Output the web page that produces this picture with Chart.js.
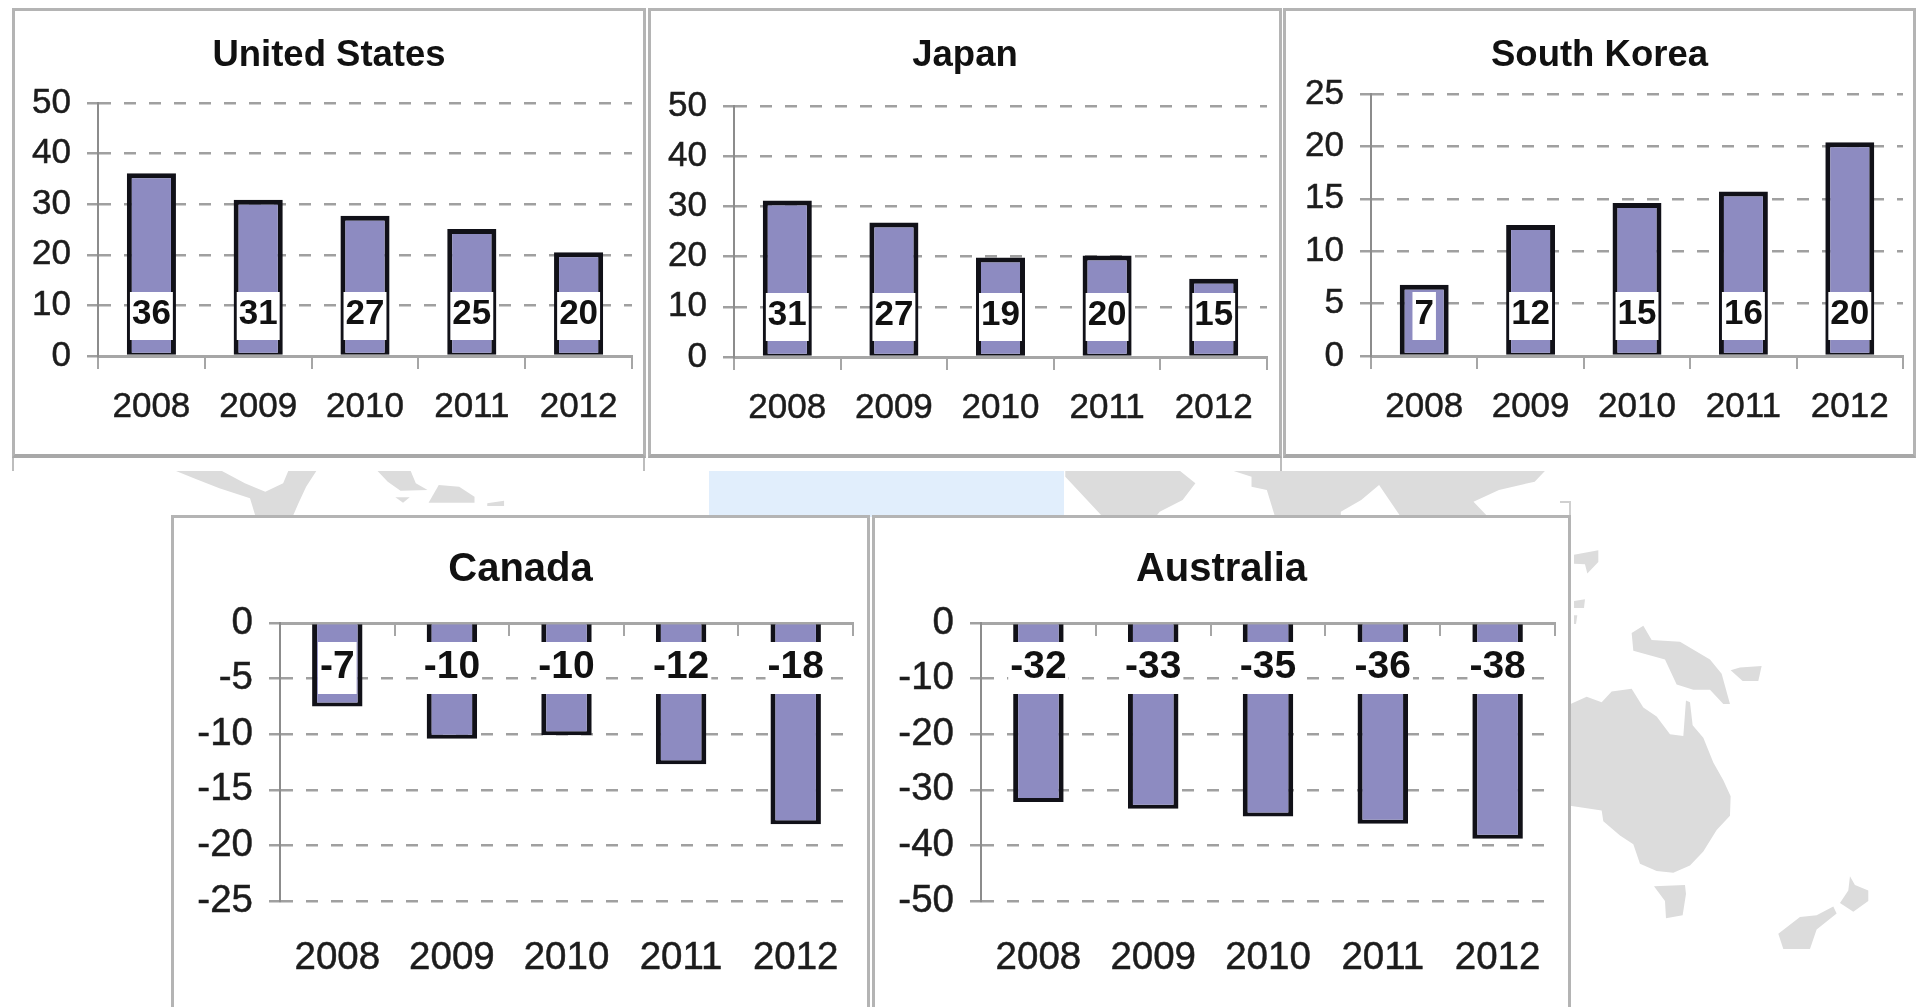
<!DOCTYPE html>
<html>
<head>
<meta charset="utf-8">
<title>Country charts</title>
<script src="https://cdn.jsdelivr.net/npm/chart.js@4"></script>
<style>
  html, body { margin: 0; padding: 0; background: #fff; width: 1916px; height: 1007px; overflow: hidden; }
  #map { position: absolute; left: 0; top: 0; filter: blur(0.6px); }
  .panel { position: absolute; background: #fff; box-sizing: border-box; border: 3px solid #b4b4b4; }
  .panel.top-row { border-bottom-width: 4px; border-bottom-color: #a8a8a8; }
  .panel.bottom-row { border-bottom: none; }
  canvas { position: absolute; filter: blur(0.5px); }
</style>
</head>
<body>

<!-- Faint world map behind the panels -->
<svg id="map" width="1916" height="1007" viewBox="0 0 1916 1007">
  <rect x="709" y="471" width="355" height="46" fill="#e1eefc"/>
  <g fill="#dcdcdc" transform="translate(0 440) scale(.5102 .3333)">
    <polygon points="345,93 435,93 480,130 520,155 555,130 565,93 620,93 600,140 585,190 575,225 500,225 490,175 430,145 380,115"/>
    <polygon points="740,93 805,93 815,130 838,150 785,152 760,125"/>
    <polygon points="860,135 900,140 930,170 930,188 840,188"/>
    <polygon points="775,172 803,172 790,188"/>
    <polygon points="955,190 988,182 988,198 955,198"/>
  </g>
  <g fill="#dcdcdc" transform="translate(800 440) scale(.5102 .3333)">
    <polygon points="520,93 745,93 775,130 750,180 705,215 700,225 590,225 520,110"/>
    <polygon points="850,93 1460,93 1440,125 1370,150 1320,185 1345,225 1175,225 1135,135 1100,180 1060,215 1060,225 930,225 915,150 885,140 885,110"/>
  </g>
  <g fill="#dcdcdc" transform="translate(1500 450) scale(.3333 .3552)">
    <polygon points="200,720 260,695 305,710 335,680 395,672 430,725 470,750 510,800 550,805 558,705 570,710 578,775 610,810 640,880 670,930 692,975 690,1030 650,1070 610,1130 570,1170 520,1190 470,1185 420,1165 400,1110 360,1085 310,1045 305,1015 200,1000"/>
    <polygon points="395,515 430,495 455,535 540,540 630,590 665,630 690,715 670,715 630,675 580,675 530,660 495,590 400,565"/>
    <polygon points="222,295 295,282 295,315 262,348 255,322 222,320"/>
    <polygon points="222,425 255,420 252,445 222,445"/>
    <polygon points="222,465 232,465 228,490 222,490"/>
    <polygon points="692,620 720,612 785,608 775,650 728,650"/>
    <polygon points="462,1228 555,1225 558,1250 548,1310 498,1318 495,1270"/>
    <polygon points="1050,1200 1065,1225 1105,1240 1105,1270 1060,1300 1020,1275 1045,1240"/>
    <polygon points="835,1362 900,1315 950,1310 1000,1285 1010,1305 950,1350 930,1405 850,1405"/>
  </g>
  <!-- stubs of the next row of frames, left showing under the top panels -->
  <g stroke="#bdbdbd" stroke-width="2" fill="none">
    <path d="M13 458V471M644 458V471M1281 458V471"/>
    <path d="M1560 502H1570V516" stroke="#d0d0d0"/>
  </g>
</svg>

<script>
const years = ['2008', '2009', '2010', '2011', '2012'];

// Bar heights, the printed labels are rounded differently in the source
const usValues = [36.1, 30.9, 27.7, 25.1, 20.5];
const usLabels = ['36', '31', '27', '25', '20'];
const usTicks = [0, 50, 10];

const japanValues = [31.2, 26.8, 19.8, 20.2, 15.6];
const japanLabels = ['31', '27', '19', '20', '15'];
const japanTicks = [0, 50, 10];

const koreaValues = [6.8, 12.5, 14.6, 15.7, 20.4];
const koreaLabels = ['7', '12', '15', '16', '20'];
const koreaTicks = [0, 25, 5];

const canadaValues = [-7.5, -10.4, -10.1, -12.7, -18.1];
const canadaLabels = ['-7', '-10', '-10', '-12', '-18'];
const canadaTicks = [-25, 0, 5];

const australiaValues = [-32.2, -33.4, -34.8, -36.1, -38.8];
const australiaLabels = ['-32', '-33', '-35', '-36', '-38'];
const australiaTicks = [-50, 0, 10];

const FONT = '"Liberation Sans", Arial, sans-serif';

// White box with the value, drawn over the bar at a fixed distance from the zero line
const valueLabels = {
  id: 'valueLabels',
  afterDraw(chart, args, opts) {
    const ctx = chart.ctx;
    const zero = chart.scales.y.getPixelForValue(0);
    const bars = chart.getDatasetMeta(0).data;
    ctx.save();
    ctx.font = 'bold ' + opts.size + 'px ' + FONT;
    ctx.textAlign = 'center';
    ctx.textBaseline = 'middle';
    opts.texts.forEach((text, i) => {
      const w = ctx.measureText(text).width + 4;
      ctx.fillStyle = '#fff';
      ctx.fillRect(bars[i].x - w / 2, zero + opts.boxOffset - opts.boxHeight / 2, w, opts.boxHeight);
      ctx.fillStyle = '#111';
      ctx.fillText(text, bars[i].x, zero + opts.textOffset);
    });
    ctx.restore();
  }
};

function makePanel(cfg) {
  const panel = document.createElement('div');
  panel.className = 'panel ' + (cfg.low ? 'bottom-row' : 'top-row');
  panel.style.left = cfg.left + 'px';
  panel.style.top = cfg.top + 'px';
  panel.style.width = (cfg.right - cfg.left) + 'px';
  panel.style.height = (cfg.bottom - cfg.top) + 'px';
  document.body.appendChild(panel);

  const w = cfg.right - cfg.left - 6;
  const h = cfg.bottom - cfg.top - 6;
  const originX = cfg.left + 3;
  const originY = cfg.top + 3;
  const canvas = document.createElement('canvas');
  canvas.style.left = '0px';
  canvas.style.top = '0px';
  canvas.style.width = w + 'px';
  canvas.style.height = h + 'px';
  canvas.width = w;
  canvas.height = h;
  panel.appendChild(canvas);

  const tickFont = cfg.low ? 38.5 : 35;
  const titleFont = cfg.low ? 40 : 36.5;
  const titleLine = titleFont * 1.2;
  const titleTop = cfg.titleY - originY - titleLine / 2;
  const titleBottom = cfg.plotTop - originY - titleTop - titleLine;
  // same padding both sides keeps the title centred on the panel
  const sidePad = originX + w - cfg.plotRight;

  new Chart(canvas, {
    type: 'bar',
    data: {
      labels: years,
      datasets: [{
        data: cfg.values,
        backgroundColor: '#8d8bc1',
        borderColor: '#111118',
        borderWidth: cfg.low ? { left: 5, right: 5, top: 0, bottom: 4 } : { left: 5, right: 5, top: 5, bottom: 2 },
        borderSkipped: false,
        categoryPercentage: 1,
        barPercentage: cfg.low ? 0.44 : 0.46
      }]
    },
    plugins: [valueLabels],
    options: {
      responsive: false,
      animation: false,
      devicePixelRatio: 1,
      layout: { padding: { left: sidePad, top: 0, bottom: 0, right: sidePad } },
      plugins: {
        legend: { display: false },
        tooltip: { enabled: false },
        title: {
          display: true,
          text: cfg.title,
          color: '#111',
          font: { family: FONT, size: titleFont, weight: 'bold', lineHeight: 1.2 },
          padding: { top: titleTop, bottom: titleBottom }
        },
        valueLabels: {
          texts: cfg.labels,
          size: cfg.low ? 39 : 35,
          boxHeight: cfg.low ? 52 : 48,
          boxOffset: cfg.low ? 45 : -40,
          textOffset: cfg.low ? 44 : -42
        }
      },
      scales: {
        // carries the year labels under the plot, axis line and marks are on x2
        x: {
          position: 'bottom',
          border: { display: false },
          // invisible tick length pushes the labels down, ticks.padding would eat the right margin
          grid: { drawOnChartArea: false, tickColor: 'rgba(0,0,0,0)', tickLength: cfg.low ? 34 : 30 },
          ticks: {
            color: '#1c1c1c',
            padding: 0,
            maxRotation: 0,
            autoSkip: false,
            textStrokeColor: '#1c1c1c',
            textStrokeWidth: 0.5,
            font: { family: FONT, size: tickFont }
          },
          afterFit(scale) { scale.height = originY + h - cfg.plotBottom; }
        },
        // axis line sits at zero, on top for the negative charts and at the bottom for the others
        x2: {
          type: 'category',
          labels: years,
          position: { y: 0 },
          offset: true,
          border: { color: '#a6a6a6', width: 3 },
          grid: { offset: true, drawOnChartArea: false, color: '#a6a6a6', lineWidth: 2, tickLength: 11 },
          ticks: { display: false }
        },
        y: {
          min: cfg.ticks[0],
          max: cfg.ticks[1],
          border: { color: '#8c8c8c', width: 2, dash: [12, 13] },
          grid: { color: '#a0a0a0', lineWidth: 2.5, tickLength: 11, tickColor: '#a0a0a0' },
          ticks: {
            stepSize: cfg.ticks[2],
            color: '#1c1c1c',
            padding: 16,
            textStrokeColor: '#1c1c1c',
            textStrokeWidth: 0.5,
            font: { family: FONT, size: tickFont }
          },
          afterFit(scale) { scale.width = cfg.axisX - originX - sidePad; }
        }
      }
    }
  });
}

makePanel({ title: 'United States', values: usValues, labels: usLabels, ticks: usTicks,
  left: 12, right: 646, top: 8, bottom: 458, axisX: 98, plotRight: 632, plotTop: 103, plotBottom: 356, titleY: 56 });
makePanel({ title: 'Japan', values: japanValues, labels: japanLabels, ticks: japanTicks,
  left: 648, right: 1282, top: 8, bottom: 458, axisX: 734, plotRight: 1267, plotTop: 106, plotBottom: 357, titleY: 56 });
makePanel({ title: 'South Korea', values: koreaValues, labels: koreaLabels, ticks: koreaTicks,
  left: 1283, right: 1916, top: 8, bottom: 458, axisX: 1371, plotRight: 1903, plotTop: 94, plotBottom: 356, titleY: 56 });
makePanel({ title: 'Canada', values: canadaValues, labels: canadaLabels, ticks: canadaTicks, low: true,
  left: 171, right: 870, top: 515, bottom: 1007, axisX: 280, plotRight: 853, plotTop: 623, plotBottom: 901, titleY: 570 });
makePanel({ title: 'Australia', values: australiaValues, labels: australiaLabels, ticks: australiaTicks, low: true,
  left: 872, right: 1571, top: 515, bottom: 1007, axisX: 981, plotRight: 1555, plotTop: 623, plotBottom: 901, titleY: 570 });
</script>
</body>
</html>
